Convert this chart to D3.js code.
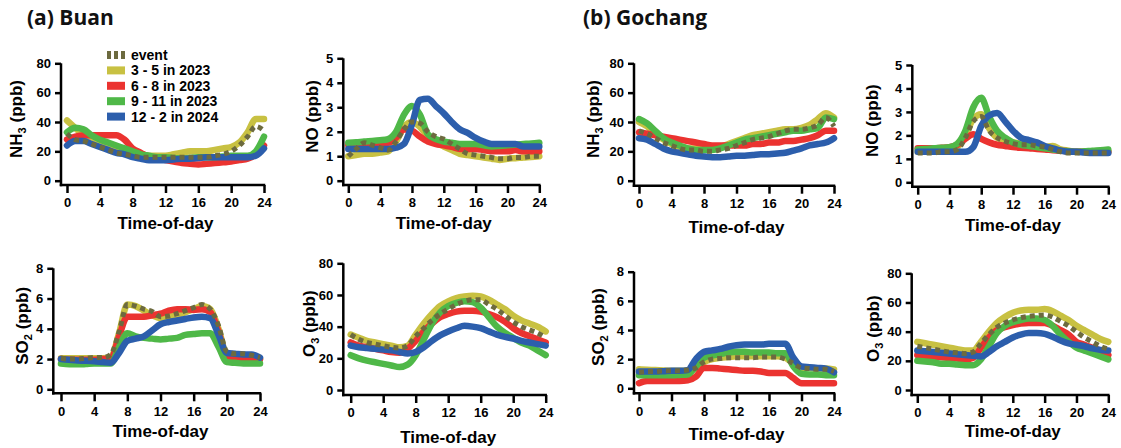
<!DOCTYPE html>
<html><head><meta charset="utf-8">
<script src="https://cdn.jsdelivr.net/npm/d3@7"></script>
<style>
body{margin:0;background:#fff;}
svg{display:block;}
</style></head>
<body><svg id="c" width="1121" height="448"></svg>
<script>
const hours = d3.range(0, 25);
const seriesNames = ["3 - 5 in 2023", "6 - 8 in 2023", "9 - 11 in 2023", "12 - 2 in 2024"];
const seriesColors = ["#c8c142", "#eb3330", "#4fb848", "#2c5eac"];
const eventName = "event";
const eventColor = "#6c6a3f";
const siteTitles = ["(a) Buan", "(b) Gochang"];
const xTicks = [0, 4, 8, 12, 16, 20, 24];

// Buan NH3
const buanNH3_spring = [41,36,31,28,25,23,21,20,19,18,17,17,17,18,19,20,20,20,21,22,23,26,33,42,42];
const buanNH3_summer = [28,30,31,31,31,31,31,28,22,19,16,15,14,13,12,11.5,11,11.5,12,12.5,13,14,15,18,24];
const buanNH3_autumn = [33,36,35,31,28,26,24,22,20,18,17,16,16,15.5,15,15.5,16,16,16,16.5,17,17,17,20,30];
const buanNH3_winter = [24,27,27,25,23,21,19,18,16,15,14,14,14,14.5,15,15,15.5,16,16,16,16,16,16,17,22];
const buanNH3_event  = [32,28,27,25,23,21,19,18,17,16,16,16,16,16,16,16,16,16,17,18,20,24,30,37,34];
// Buan NO
const buanNO_spring = [1.0,1.05,1.1,1.1,1.15,1.2,1.6,2.2,2.4,2.2,1.8,1.55,1.4,1.25,1.1,1.05,1.0,0.95,0.9,0.85,0.9,0.92,0.95,0.97,1.0];
const buanNO_summer = [1.45,1.47,1.5,1.52,1.55,1.55,1.75,2.1,2.05,1.8,1.6,1.5,1.45,1.38,1.3,1.3,1.3,1.25,1.2,1.2,1.2,1.25,1.2,1.2,1.2];
const buanNO_autumn = [1.55,1.57,1.6,1.62,1.65,1.7,2.0,2.7,3.05,2.7,1.9,1.7,1.6,1.55,1.5,1.5,1.5,1.45,1.4,1.42,1.45,1.48,1.5,1.52,1.55];
const buanNO_winter = [1.3,1.3,1.3,1.3,1.3,1.3,1.35,1.5,2.3,3.3,3.35,3.05,2.75,2.4,2.1,1.95,1.75,1.6,1.5,1.5,1.5,1.5,1.4,1.4,1.4];
const buanNO_event  = [1.0,1.3,1.55,1.45,1.35,1.25,1.6,2.1,2.4,2.35,2.0,1.8,1.7,1.5,1.3,1.1,1.05,1.0,0.95,0.9,0.9,0.95,0.95,1.0,1.0];
// Gochang NH3
const gochNH3_spring = [40,37,32,28,25,23,22,22,21,22,23,25,27,29,31,32,33,34,35,35,36,38,42,46,43];
const gochNH3_summer = [33,32,31,30,29,28,27,26,25,24,24,24,24,24,25,25,26,26,27,27,28,29,31,34,34];
const gochNH3_autumn = [42,39,34,29,26,24,22,21,21,21,22,24,26,28,29,30,31,32,33,34,34,35,36,43,42];
const gochNH3_winter = [29,28,25,22,20,19,18,17,16.5,16,16,16.5,17,17,17.5,18,18,18.5,19,20.5,22,24,25,26,29];
const gochNH3_event  = [34,32,29,26,24,22,21,21,20,20,21,22,24,26,28,29,30,32,34,35,35,36,38,43,37];
// Gochang NO
const gochNO_spring = [1.3,1.3,1.3,1.32,1.35,1.5,2.0,2.7,2.9,2.3,1.9,1.8,1.7,1.65,1.6,1.55,1.5,1.55,1.4,1.35,1.3,1.3,1.3,1.3,1.3];
const gochNO_summer = [1.45,1.45,1.45,1.47,1.5,1.6,1.85,2.05,1.85,1.7,1.6,1.55,1.5,1.47,1.45,1.42,1.4,1.37,1.35,1.32,1.3,1.3,1.3,1.3,1.3];
const gochNO_autumn = [1.4,1.42,1.45,1.47,1.5,1.65,2.2,3.2,3.6,2.8,2.2,1.9,1.7,1.6,1.55,1.5,1.45,1.4,1.35,1.32,1.3,1.32,1.35,1.37,1.4];
const gochNO_winter = [1.3,1.3,1.3,1.3,1.3,1.3,1.3,1.5,2.4,2.85,2.95,2.6,2.2,1.9,1.8,1.7,1.55,1.45,1.35,1.3,1.3,1.27,1.25,1.25,1.25];
const gochNO_event  = [1.25,1.25,1.25,1.3,1.3,1.4,1.9,2.6,2.8,2.2,1.9,1.75,1.65,1.6,1.6,1.55,1.5,1.4,1.3,1.25,1.25,1.25,1.25,1.25,1.25];
// Buan SO2
const buanSO2_spring = [2.05,2.05,2.05,2.05,2.05,2.05,2.1,3.7,5.6,5.5,5.2,4.9,4.7,4.8,4.9,5.1,5.3,5.5,5.3,4.0,2.3,2.2,2.2,2.2,2.0];
const buanSO2_summer = [2.0,1.95,1.95,1.95,1.95,2.0,2.0,3.5,4.8,4.8,4.8,4.9,5.0,5.2,5.3,5.3,5.25,5.3,5.1,3.8,2.1,2.05,2.0,2.0,2.0];
const buanSO2_autumn = [1.7,1.65,1.65,1.67,1.7,1.7,1.7,2.8,3.7,3.5,3.4,3.35,3.3,3.35,3.4,3.6,3.65,3.7,3.7,2.8,1.8,1.75,1.7,1.7,1.7];
const buanSO2_winter = [2.0,1.95,1.9,1.88,1.85,1.8,1.75,2.4,3.2,3.35,3.5,3.9,4.3,4.45,4.55,4.65,4.75,4.8,4.7,3.6,2.4,2.35,2.3,2.3,2.1];
const buanSO2_event  = [2.05,2.0,2.0,2.05,2.1,2.1,2.3,3.8,5.6,5.5,5.3,5.15,4.8,4.85,5.0,5.2,5.4,5.6,5.3,4.2,2.5,2.35,2.35,2.25,2.1];
// Buan O3
const buanO3_spring = [35,33,31,30,29,28,27,28,35,42,48,53,56,58,59,59.5,59,57,54,51,47,44,42,40,37];
const buanO3_summer = [30,28,27,26,25,24,23.5,26,31,37,42,46,48,49.5,50,50,49.5,48,46,43,39,36,34,32,30];
const buanO3_autumn = [22,20,18.5,17.5,16.5,15.5,14.5,16,22,32,42,49,53,55,56,55.5,52,46,40,36,33,30,28,25,22];
const buanO3_winter = [28,27,26.5,26,25.5,25,24,23,24,27,31,34.5,37,39,40.5,40,39,37,35,33.5,32.5,31,30,29,28];
const buanO3_event  = [35,32,30,29,28,27,26.5,28,34,39,44,48,51,54,56,57,57,54,51,47,43,40,38,36,33];
// Gochang SO2
const gochSO2_spring = [1.3,1.27,1.25,1.22,1.2,1.2,1.2,1.4,1.8,2.0,2.1,2.15,2.2,2.2,2.2,2.2,2.2,2.2,2.1,1.7,1.4,1.4,1.35,1.35,1.3];
const gochSO2_summer = [0.35,0.5,0.5,0.5,0.5,0.5,0.55,0.8,1.4,1.4,1.35,1.3,1.25,1.2,1.2,1.15,1.05,1.05,1.05,0.7,0.35,0.35,0.35,0.35,0.35];
const gochSO2_autumn = [0.9,0.9,0.9,0.9,0.9,0.92,0.95,1.5,2.1,2.25,2.35,2.45,2.5,2.5,2.45,2.45,2.45,2.4,2.4,1.5,1.0,0.95,0.95,0.9,0.9];
const gochSO2_winter = [1.15,1.15,1.15,1.17,1.2,1.2,1.25,2.0,2.5,2.6,2.7,2.85,2.95,3.0,3.0,3.0,3.05,3.05,3.05,2.1,1.5,1.45,1.4,1.35,1.1];
const gochSO2_event  = [1.1,1.15,1.15,1.2,1.2,1.2,1.25,1.4,1.8,2.0,2.05,2.1,2.1,2.1,2.1,2.15,2.15,2.15,2.0,1.7,1.4,1.35,1.3,1.3,1.15];
// Gochang O3
const gochO3_spring = [33,32,31,30,29,28,27,27,33,40,46,50,53,54.5,55,55,55.5,54,51,48,44,41,38,35,33];
const gochO3_summer = [24,23.5,23,22.5,22,21.5,21,22,29,36,41,43,44.5,45.5,46,46,46,44,41,38,33,31,29,27,24];
const gochO3_autumn = [20,19.5,19,18,18,17.5,17,17,21,30,39,44,46.5,48,49,49,48,44,38,33,29,27,25,23,21];
const gochO3_winter = [27,26.5,26,25.5,25,24.5,24,23.5,23,26,30,33,36,38,39,39,38.5,36.5,34,32,31,30,28.5,27.5,27];
const gochO3_event  = [30,29,28,27,26,25.5,25,26,32,38,43,46,48,49.5,50.5,51,51.5,50,47,44,40,36,33,30,28];

const panels = [
  {label:["NH","3"," (ppb)"], max:80, ticks:[0,20,40,60,80], series:[buanNH3_spring,buanNH3_summer,buanNH3_autumn,buanNH3_winter], event:buanNH3_event,
   ax:61, x0:67, x1:264, yT:63.3, yB:180.7, xa:185, lx:16, tY:229, legend:true},
  {label:["NO","",""," (ppb)"], max:5, ticks:[0,1,2,3,4,5], series:[buanNO_spring,buanNO_summer,buanNO_autumn,buanNO_winter], event:buanNO_event,
   ax:343.3, x0:348.3, x1:539.3, yT:58.3, yB:180.7, xa:185, lx:312, tY:229},
  {label:["NH","3"," (ppb)"], max:80, ticks:[0,20,40,60,80], series:[gochNH3_spring,gochNH3_summer,gochNH3_autumn,gochNH3_winter], event:gochNH3_event,
   ax:634, x0:639, x1:834, yT:63.3, yB:180.7, xa:185.7, lx:593, tY:233},
  {label:["NO","",""," (ppb)"], max:5, ticks:[0,1,2,3,4,5], series:[gochNO_spring,gochNO_summer,gochNO_autumn,gochNO_winter], event:gochNO_event,
   ax:912.3, x0:917.7, x1:1108.3, yT:65, yB:182.3, xa:186.7, lx:872, tY:231},
  {label:["SO","2"," (ppb)"], max:8, ticks:[0,2,4,6,8], series:[buanSO2_spring,buanSO2_summer,buanSO2_autumn,buanSO2_winter], event:buanSO2_event,
   ax:53.3, x0:61, x1:260, yT:268.3, yB:389.3, xa:393.3, lx:22, tY:437},
  {label:["O","3"," (ppb)"], max:80, ticks:[0,20,40,60,80], series:[buanO3_spring,buanO3_summer,buanO3_autumn,buanO3_winter], event:buanO3_event,
   ax:343.3, x0:350.7, x1:545.7, yT:263.3, yB:390, xa:395, lx:309, tY:443},
  {label:["SO","2"," (ppb)"], max:8, ticks:[0,2,4,6,8], series:[gochSO2_spring,gochSO2_summer,gochSO2_autumn,gochSO2_winter], event:gochSO2_event,
   ax:634, x0:639, x1:834, yT:271.7, yB:388.3, xa:393.3, lx:598, tY:440},
  {label:["O","3"," (ppb)"], max:80, ticks:[0,20,40,60,80], series:[gochO3_spring,gochO3_summer,gochO3_autumn,gochO3_winter], event:gochO3_event,
   ax:911.7, x0:917.3, x1:1108.3, yT:273.3, yB:390, xa:395, lx:873, tY:437}
];

const svg = d3.select("#c");
const axFont = "'Liberation Sans', Arial, sans-serif";

svg.append("text").attr("x", 27).attr("y", 25).attr("font-family","'Open Sans', sans-serif")
  .attr("font-weight", 700).attr("font-size", 21).attr("fill","#111").text(siteTitles[0]);
svg.append("text").attr("x", 583).attr("y", 25).attr("font-family","'Open Sans', sans-serif")
  .attr("font-weight", 700).attr("font-size", 21).attr("fill","#111").text(siteTitles[1]);

panels.forEach(p => {
  const x = d3.scaleLinear().domain([0, 24]).range([p.x0, p.x1]);
  const y = d3.scaleLinear().domain([0, p.max]).range([p.yB, p.yT]);
  const g = svg.append("g");

  // lines
  const line = d3.line().x((d,i)=>x(hours[i])).y(d=>y(d)).curve(d3.curveMonotoneX);
  p.series.forEach((s, k) => {
    g.append("path").datum(s).attr("d", line).attr("fill","none")
      .attr("stroke", seriesColors[k]).attr("stroke-width", 6.5)
      .attr("stroke-linejoin","round").attr("stroke-linecap","round");
  });
  g.append("path").datum(p.event).attr("d", line).attr("fill","none")
    .attr("stroke", eventColor).attr("stroke-width", 5)
    .attr("stroke-dasharray","5,4");

  // y axis
  const ya = d3.axisLeft(y).tickValues(p.ticks).tickSize(6).tickPadding(4).tickFormat(d3.format("d"));
  const yg = g.append("g").attr("transform", `translate(${p.ax},0)`).call(ya);
  yg.select(".domain").remove();
  yg.append("line").attr("x1",0).attr("x2",0).attr("y1",p.yT).attr("y2",p.xa+1.25)
    .attr("stroke","#000").attr("stroke-width",2.5);
  yg.selectAll(".tick line").attr("stroke","#000").attr("stroke-width",2.5);
  yg.selectAll(".tick text").attr("font-family",axFont).attr("font-weight",700).attr("font-size",13).attr("fill","#000");

  // x axis
  const xa = d3.axisBottom(x).tickValues(xTicks).tickSize(8).tickPadding(5).tickFormat(d3.format("d"));
  const xg = g.append("g").attr("transform", `translate(0,${p.xa})`).call(xa);
  xg.select(".domain").remove();
  xg.append("line").attr("x1",p.ax-1.25).attr("x2",p.x1+1.25).attr("y1",0).attr("y2",0)
    .attr("stroke","#000").attr("stroke-width",2.5);
  xg.selectAll(".tick line").attr("stroke","#000").attr("stroke-width",2.5);
  xg.selectAll(".tick text").attr("font-family",axFont).attr("font-weight",700).attr("font-size",13).attr("fill","#000");

  // x title
  g.append("text").attr("x",(p.x0+p.x1)/2).attr("y",p.tY).attr("text-anchor","middle")
    .attr("font-family",axFont).attr("font-weight",700).attr("font-size",17).attr("fill","#000")
    .text("Time-of-day");

  // y title
  const yc = (p.yT + p.yB)/2 - 3;
  const t = g.append("text").attr("transform",`translate(${p.lx+6},${yc}) rotate(-90)`)
    .attr("text-anchor","middle").attr("font-family",axFont).attr("font-weight",700)
    .attr("font-size",17).attr("fill","#000");
  t.append("tspan").text(p.label[0]);
  if (p.label[1]) {
    t.append("tspan").attr("font-size",11).attr("dy",4).text(p.label[1]);
    t.append("tspan").attr("dy",-4).text(p.label[2]);
  } else {
    t.append("tspan").text(p.label[3]);
  }

  if (p.legend) {
    const lg = svg.append("g").attr("transform","translate(107,55)");
    const items = [{name:eventName,color:eventColor,dash:true}].concat(seriesNames.map((n,i)=>({name:n,color:seriesColors[i]})));
    items.forEach((it, i) => {
      const yy = i*15.4;
      lg.append("line").attr("x1",0).attr("x2",18).attr("y1",yy).attr("y2",yy)
        .attr("stroke",it.color).attr("stroke-width",8)
        .attr("stroke-dasharray", it.dash ? "4,3" : null);
      lg.append("text").attr("x",24).attr("y",yy+5).attr("font-family",axFont)
        .attr("font-weight",700).attr("font-size",14).attr("fill","#000").text(it.name);
    });
  }
});
</script></body></html>
